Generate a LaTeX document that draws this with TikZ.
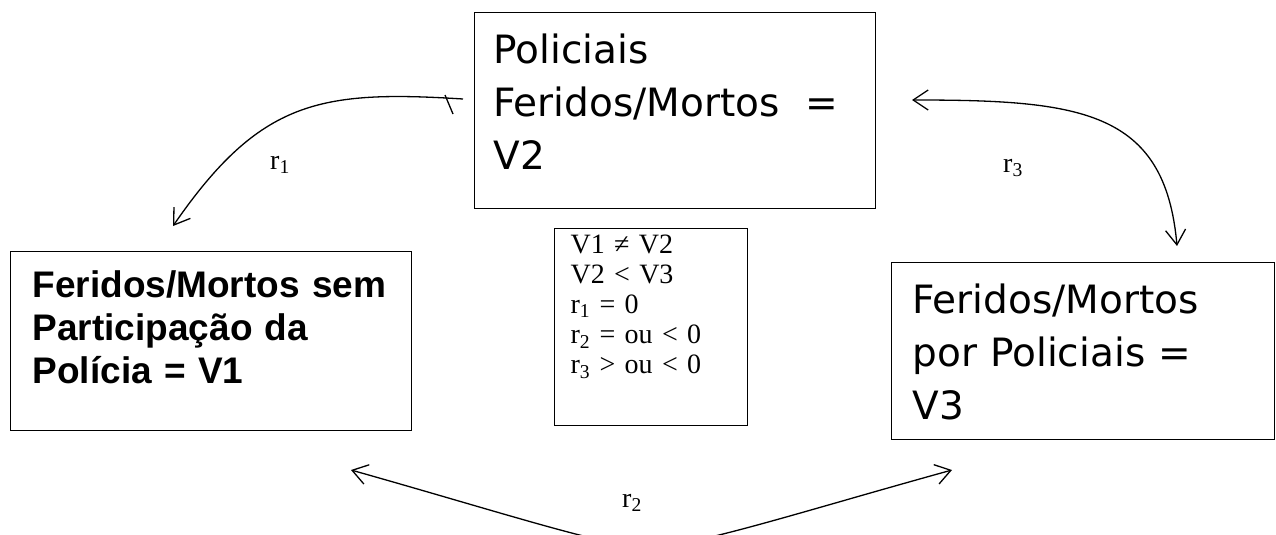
\documentclass[tikz,border=0pt]{standalone}
\usepackage{fontspec}
\setmainfont{Liberation Serif}
\newfontfamily\verdfont{DejaVu Sans}
\newfontfamily\arialfont{Liberation Sans}
\usetikzlibrary{arrows.meta}

\tikzset{
  box/.style={draw, line width=1.2pt, anchor=north west, align=left},
  bigtxt/.style={font=\verdfont\fontsize{39}{53}\selectfont},
  boldtxt/.style={font=\arialfont\bfseries\fontsize{37}{43}\selectfont},
  smalltxt/.style={font=\fontsize{28}{30}\selectfont},
}

\begin{document}
\begin{tikzpicture}[x=1pt, y=-1pt, line width=1.3pt,
    >={Straight Barb[length=15pt, width=20pt]}]
    \useasboundingbox (0,0) rectangle (1276,535);
    \clip (0,0) rectangle (1276,535);

    % the three boxes
    \node[box, bigtxt, inner xsep=19pt, inner ysep=22pt, text width=363pt,
          text height=29pt, text depth=123pt] (pol) at (474,12)
          {Policiais\\Feridos/Mortos~~=\\V2};
    \node[box, boldtxt, inner xsep=22pt, inner ysep=19pt, text width=357pt,
          text height=27pt, text depth=114pt] (semp) at (10,251)
          {Feridos/Mortos sem\\Participação da\\Polícia = V1};
    \node[box, bigtxt, inner xsep=21pt, inner ysep=22pt, text width=341pt,
          text height=29pt, text depth=104pt] (porp) at (891,262)
          {Feridos/Mortos\\por Policiais =\\V3};

    % conditions in the middle
    \node[box, smalltxt, inner xsep=16pt, inner ysep=6pt, text width=161pt,
          text height=19pt, text depth=166pt] (cond) at (554,228)
          {V1 ≠ V2\\V2 < V3\\r\textsubscript{1} = 0\\r\textsubscript{2} = ou < 0\\r\textsubscript{3} > ou < 0};

    % arrow ends
    \coordinate (r1a) at (463,99);
    \coordinate (r1b) at (173,226);
    \coordinate (r3a) at (912,100);
    \coordinate (r3b) at (1177,246);
    \coordinate (r2a) at (351,470);
    \coordinate (r2m) at (647,548);
    \coordinate (r2b) at (952,470);

    \draw[->] (r1a) .. controls (320,90) and (260,100) .. (r1b);
    \draw (445,95) -- (453,114);
    \draw[<->] (r3a) .. controls (1080,100) and (1165,110) .. (r3b);
    \draw[<->] (r2a) .. controls (500,512) and (600,545) .. (r2m)
                     .. controls (700,545) and (800,512) .. (r2b);

    \node[smalltxt] (l1) at (280,165) {r\textsubscript{1}};
    \node[smalltxt] (l2) at (632,503) {r\textsubscript{2}};
    \node[smalltxt] (l3) at (1013,168) {r\textsubscript{3}};
\end{tikzpicture}
\end{document}
